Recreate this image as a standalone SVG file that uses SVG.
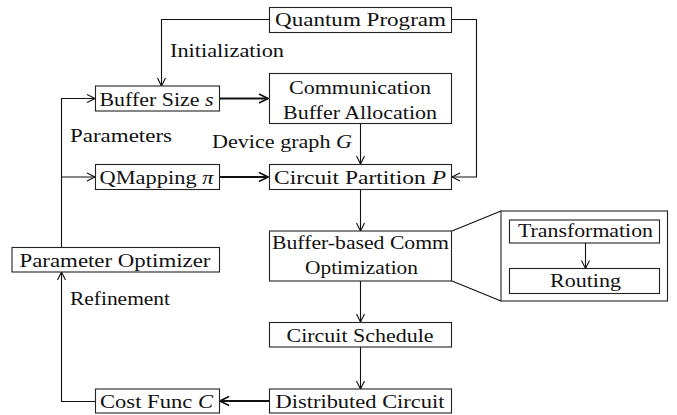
<svg xmlns="http://www.w3.org/2000/svg" width="677" height="415" viewBox="0 0 677 415">
<style>
.box{fill:#fff;stroke:#222;stroke-width:1.1}
.zb{fill:none;stroke:#222;stroke-width:1.1}
.c{fill:none;stroke:#111;stroke-width:1.1}
.t{fill:none;stroke:#111;stroke-width:1.8}
text{font-family:'Liberation Serif','DejaVu Serif',serif;font-size:19.5px;fill:#111}
.m{text-anchor:middle}
.i{font-style:italic}
</style>
<defs>
<marker id="a" viewBox="-10 -6 12 12" markerWidth="12" markerHeight="12" refX="0" refY="0" orient="auto" markerUnits="userSpaceOnUse"><path d="M-8,-4 L0,0 L-8,4" fill="none" stroke="#111" stroke-width="1.1"/></marker>
<marker id="b" viewBox="-11 -6 12 12" markerWidth="12" markerHeight="12" refX="0" refY="0" orient="auto" markerUnits="userSpaceOnUse"><path d="M-9,-4.5 L0,0 L-9,4.5" fill="none" stroke="#111" stroke-width="1.6"/></marker>
</defs>
<g id="zoom-box"><rect class="zb" x="501" y="211" width="166.5" height="90"/></g>
<g id="connectors">
<path class="c" d="M269,19.5 H161.5 V86" marker-end="url(#a)"/>
<path class="c" d="M452,19.5 H476.5 V177 H452" marker-end="url(#a)"/>
<path class="t" d="M219,98.5 H268" marker-end="url(#b)"/>
<path class="t" d="M219,177 H268" marker-end="url(#b)"/>
<path class="c" d="M360.5,123 V164" marker-end="url(#a)"/>
<path class="c" d="M360.5,189 V231" marker-end="url(#a)"/>
<path class="c" d="M360.5,281 V322" marker-end="url(#a)"/>
<path class="c" d="M360.5,347 V389" marker-end="url(#a)"/>
<path class="t" d="M269,401 H220" marker-end="url(#b)"/>
<path class="c" d="M95,401.5 H61.5 V272" marker-end="url(#a)"/>
<path class="c" d="M61.5,247 V98.5 H95" marker-end="url(#a)"/>
<path class="c" d="M61.5,177 H95" marker-end="url(#a)"/>
<path class="c" d="M585.5,243 V268.5" marker-end="url(#a)"/>
<path class="c" d="M452,231 L501,211 M452,281 L501,301"/>
</g>
<g id="quantum-program"><rect class="box" x="269.5" y="7.5" width="182" height="25"/><text class="m" x="360.5" y="26" textLength="171" lengthAdjust="spacingAndGlyphs">Quantum Program</text></g>
<g id="lbl-init"><text x="170" y="56.5" textLength="114" lengthAdjust="spacingAndGlyphs">Initialization</text></g>
<g id="buffer-size"><rect class="box" x="95.5" y="86" width="124" height="25"/><text x="99.5" y="105.5" textLength="114" lengthAdjust="spacingAndGlyphs">Buffer Size <tspan class="i">s</tspan></text></g>
<g id="comm-buffer"><rect class="box" x="269.5" y="73.5" width="182" height="50"/><text class="m" x="360" y="94" textLength="142" lengthAdjust="spacingAndGlyphs">Communication</text><text class="m" x="360" y="119" textLength="154" lengthAdjust="spacingAndGlyphs">Buffer Allocation</text></g>
<g id="lbl-params"><text x="70" y="141.5" textLength="102" lengthAdjust="spacingAndGlyphs">Parameters</text></g>
<g id="lbl-device"><text x="212" y="148" textLength="140" lengthAdjust="spacingAndGlyphs">Device graph <tspan class="i">G</tspan></text></g>
<g id="qmapping"><rect class="box" x="95.5" y="164.5" width="124" height="25"/><text x="99.5" y="183.5" textLength="114" lengthAdjust="spacingAndGlyphs">QMapping <tspan class="i">π</tspan></text></g>
<g id="circuit-partition"><rect class="box" x="269.5" y="164.5" width="182" height="25"/><text class="m" x="360" y="183.5" textLength="172" lengthAdjust="spacingAndGlyphs">Circuit Partition <tspan class="i">P</tspan></text></g>
<g id="param-opt"><rect class="box" x="12" y="247.5" width="207.5" height="24.5"/><text class="m" x="115" y="266.5" textLength="191" lengthAdjust="spacingAndGlyphs">Parameter Optimizer</text></g>
<g id="lbl-refine"><text x="70" y="305" textLength="100" lengthAdjust="spacingAndGlyphs">Refinement</text></g>
<g id="buffer-comm-opt"><rect class="box" x="269.5" y="231" width="182" height="50"/><text class="m" x="360.5" y="249" textLength="177" lengthAdjust="spacingAndGlyphs">Buffer-based Comm</text><text class="m" x="361.5" y="273.5" textLength="113" lengthAdjust="spacingAndGlyphs">Optimization</text></g>
<g id="transformation"><rect class="box" x="509.5" y="220" width="150" height="23"/><text class="m" x="585.5" y="237" textLength="135" lengthAdjust="spacingAndGlyphs">Transformation</text></g>
<g id="routing"><rect class="box" x="509.5" y="268.5" width="150" height="25"/><text class="m" x="585.5" y="286.5" textLength="71" lengthAdjust="spacingAndGlyphs">Routing</text></g>
<g id="circuit-schedule"><rect class="box" x="269.5" y="322.5" width="182" height="24.5"/><text class="m" x="360" y="341.5" textLength="147" lengthAdjust="spacingAndGlyphs">Circuit Schedule</text></g>
<g id="distributed"><rect class="box" x="269.5" y="389" width="182" height="24"/><text class="m" x="360" y="408" textLength="169" lengthAdjust="spacingAndGlyphs">Distributed Circuit</text></g>
<g id="cost-func"><rect class="box" x="95.5" y="389" width="124" height="24"/><text x="100" y="408" textLength="113" lengthAdjust="spacingAndGlyphs">Cost Func <tspan class="i">C</tspan></text></g>
</svg>
